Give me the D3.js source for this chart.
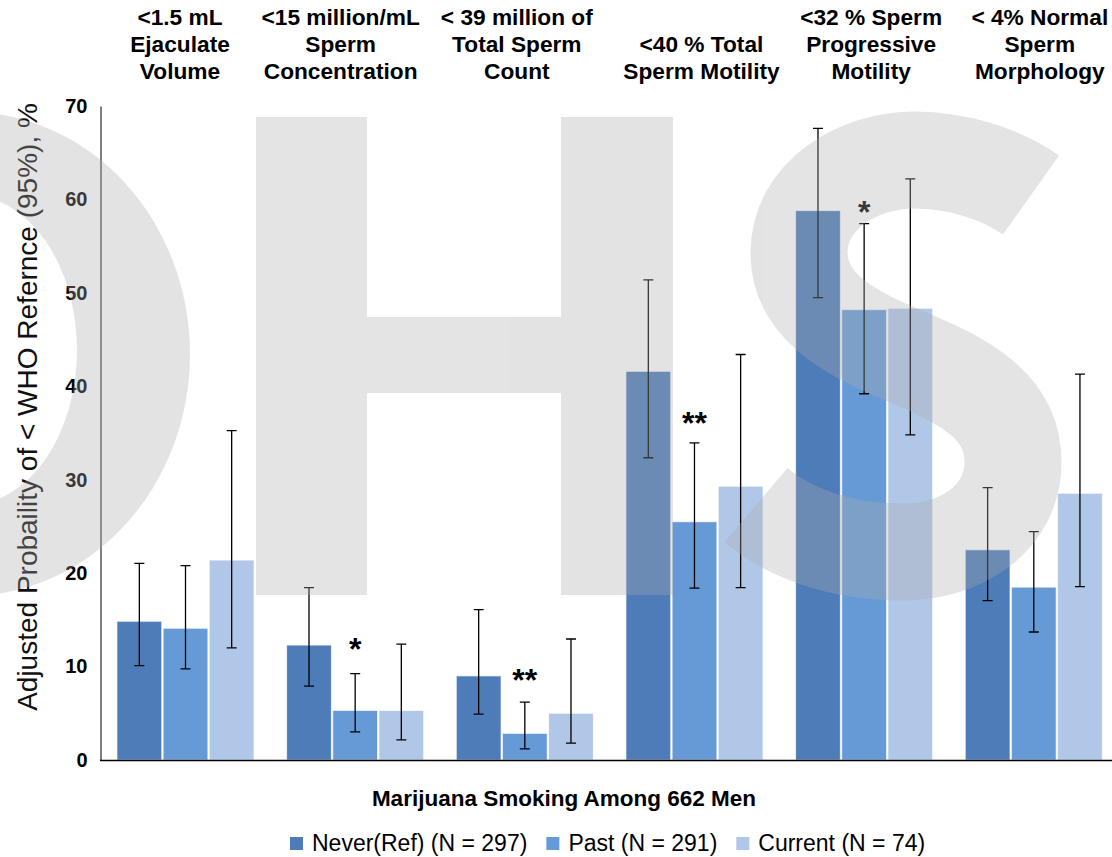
<!DOCTYPE html>
<html>
<head>
<meta charset="utf-8">
<script src="https://cdn.jsdelivr.net/npm/d3@7"></script>
<style>
  html, body { margin: 0; padding: 0; background: #fff; }
  svg { display: block; }
  text { font-family: "Liberation Sans", Arial, sans-serif; }
</style>
</head>
<body>
<div id="chart"></div>
<script>
// ---------- data ----------
const categoryLabels = [
  ["<1.5 mL", "Ejaculate", "Volume"],
  ["<15 million/mL", "Sperm", "Concentration"],
  ["< 39 million of", "Total Sperm", "Count"],
  ["<40 % Total", "Sperm Motility"],
  ["<32 % Sperm", "Progressive", "Motility"],
  ["< 4% Normal", "Sperm", "Morphology"]
];
const seriesNames = ["Never(Ref) (N = 297)", "Past (N = 291)", "Current (N = 74)"];
const seriesColors = ["#4e7cb8", "#659ad6", "#b1c7e8"];

const neverVals   = [14.85, 12.3, 9.0, 41.6, 58.8, 22.5];
const neverLow    = [10.1, 7.9, 4.9, 32.35, 49.5, 17.05];
const neverHigh   = [21.05, 18.45, 16.1, 51.4, 67.6, 29.15];
const pastVals    = [14.1, 5.3, 2.85, 25.5, 48.2, 18.5];
const pastLow     = [9.75, 3.0, 1.2, 18.4, 39.2, 13.7];
const pastHigh    = [20.8, 9.25, 6.2, 33.95, 57.4, 24.45];
const currentVals = [21.4, 5.3, 5.0, 29.3, 48.35, 28.55];
const currentLow  = [12.0, 2.15, 1.8, 18.45, 34.8, 18.55];
const currentHigh = [35.25, 12.4, 12.95, 43.4, 62.2, 41.3];

const pastStars  = ["", "*", "**", "**", "*", ""];
const starLevels = [null, 12.6, 9.3, 36.8, 59.4, null];

const yTicks = [0, 10, 20, 30, 40, 50, 60, 70];
const yTitle = "Adjusted Probaility of < WHO Refernce (95%), %";
const xTitle = "Marijuana Smoking Among 662 Men";

// ---------- layout ----------
const W = 1112, H = 857;
const svg = d3.select("#chart").append("svg").attr("width", W).attr("height", H);

const catIdx = d3.range(categoryLabels.length);
const x = d3.scaleBand().domain(catIdx).range([100, 1119.3]).paddingInner(0.192).paddingOuter(0.1);
const xs = d3.scaleBand().domain(d3.range(3)).range([0, x.bandwidth()]).paddingInner(0.03);
const y = d3.scaleLinear().domain([0, 70]).range([760, 106]);

const vals = [neverVals, pastVals, currentVals];
const lows = [neverLow, pastLow, currentLow];
const highs = [neverHigh, pastHigh, currentHigh];

const bars = [];
catIdx.forEach(c => vals.forEach((s, k) => bars.push({c, k, v: s[c], lo: lows[k][c], hi: highs[k][c]})));

// bars
svg.append("g").selectAll("rect").data(bars).join("rect")
  .attr("x", d => x(d.c) + xs(d.k))
  .attr("width", xs.bandwidth())
  .attr("y", d => y(d.v))
  .attr("height", d => y(0) - y(d.v))
  .attr("fill", d => seriesColors[d.k])
  .attr("stroke", "#ffffff").attr("stroke-opacity", 0.7).attr("stroke-width", 1);

// error bars
const eb = svg.append("g").attr("stroke", "#000").attr("stroke-width", 1.3).attr("fill", "none");
const cx = d => x(d.c) + xs(d.k) + xs.bandwidth() / 2;
eb.selectAll("path").data(bars).join("path")
  .attr("d", d => `M${cx(d)},${y(d.hi)}V${y(d.lo)}M${cx(d)-5},${y(d.hi)}H${cx(d)+5}M${cx(d)-5},${y(d.lo)}H${cx(d)+5}`);

// significance stars
const starFs = 32;
svg.append("g").selectAll("text").data(catIdx.filter(c => pastStars[c]))
  .join("text")
  .attr("x", c => x(c) + xs(1) + xs.bandwidth() / 2)
  .attr("y", c => y(starLevels[c]) + 0.56 * starFs)
  .attr("text-anchor", "middle")
  .attr("font-weight", "bold").attr("font-size", starFs)
  .attr("fill", "#000")
  .text(c => pastStars[c]);

// axes
const yAxis = d3.axisLeft(y).tickValues(yTicks).tickSize(0).tickPadding(13);
const gy = svg.append("g").attr("transform", "translate(100.5,0)").call(yAxis);
gy.select(".domain").attr("stroke", "#000").attr("stroke-width", 1);
gy.selectAll("text").attr("font-size", 20).attr("font-weight", "bold").attr("fill", "#000")
  .attr("font-family", "Liberation Sans, Arial, sans-serif");

svg.append("line").attr("x1", 100).attr("x2", W).attr("y1", y(0) + 0.5).attr("y2", y(0) + 0.5)
  .attr("stroke", "#000").attr("stroke-width", 1.6);

// category titles (text boxes sit slightly off the band centres, as in the source)
const titleShift = [-5.5, -14.5, -8, 7, 7, 6];
const tg = svg.append("g");
catIdx.forEach(c => {
  const lines = categoryLabels[c];
  const n = lines.length;
  lines.forEach((t, i) => {
    tg.append("text")
      .attr("x", x(c) + x.bandwidth() / 2 + titleShift[c])
      .attr("y", 79 - (n - 1 - i) * 27)
      .attr("text-anchor", "middle")
      .attr("font-size", 22.7).attr("font-weight", "bold").attr("fill", "#000")
      .text(t);
  });
});

// axis titles
svg.append("text")
  .attr("transform", `translate(37,407) rotate(-90)`)
  .attr("text-anchor", "middle").attr("font-size", 28).attr("fill", "#111")
  .text(yTitle);
svg.append("text")
  .attr("x", 564).attr("y", 806).attr("text-anchor", "middle")
  .attr("font-size", 22.5).attr("font-weight", "bold").attr("fill", "#000")
  .text(xTitle);

// legend
const lg = svg.append("g");
let lx = 290;
seriesNames.forEach((name, k) => {
  lg.append("rect").attr("x", lx).attr("y", 837).attr("width", 13).attr("height", 13).attr("fill", seriesColors[k]);
  const t = lg.append("text").attr("x", lx + 22).attr("y", 851).attr("font-size", 23).attr("fill", "#000").text(name);
  lx += 22 + t.node().getComputedTextLength() + 19;
});

// watermark "OHS" (drawn on top, translucent)
const wm = svg.append("g").attr("opacity", 0.326);
const ell = (cx0, cy0, a, b) => `M${cx0 - a},${cy0}a${a},${b} 0 1,0 ${2*a},0a${a},${b} 0 1,0 ${-2*a},0Z`;
// O : ring
wm.append("path").attr("fill", "#acacac").attr("fill-rule", "evenodd")
  .attr("d", ell(-32, 354, 222, 242) + ell(-32, 350, 109, 155));
// H
wm.append("path").attr("fill", "#acacac")
  .attr("d", "M256,117H367V317H561V117H673V595H561V393H367V595H256Z");
// S : thick stroke along its centreline
wm.append("path").attr("fill", "none").attr("stroke", "#acacac")
  .attr("stroke-width", 97).attr("stroke-linecap", "butt")
  .attr("d", "M1031,195 C1000,173 955,160 915,160 C857,160 799,196 799,253 C799,305 848,333 905,356 C962,380 1013,405 1013,462 C1013,518 962,552 902,552 C842,552 790,534 756,505");
</script>
</body>
</html>
